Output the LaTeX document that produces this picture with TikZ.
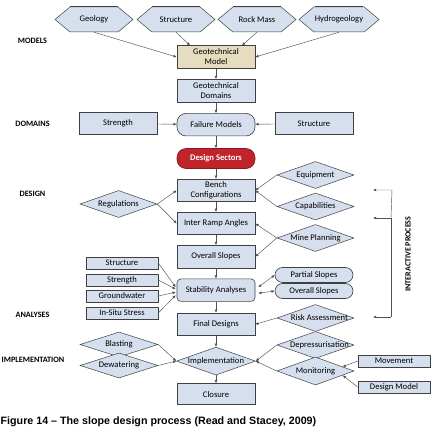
\documentclass[tikz,border=0pt]{standalone}
\usepackage{fontspec}
\setmainfont{Carlito}
\newfontfamily\captionface{Liberation Sans}
\usetikzlibrary{shapes.geometric, shapes.symbols, arrows.meta, positioning, calc}
\definecolor{slopeBlue}{HTML}{D5DFEE}
\definecolor{slopeTan}{HTML}{E6DCC0}
\definecolor{slopeRed}{HTML}{C0242A}
\definecolor{slopeLine}{HTML}{404040}
\definecolor{slopeArrow}{HTML}{505050}
\newcommand{\overtext}[1]{\makebox[0pt]{#1}}

\begin{document}
\begin{tikzpicture}[x=1pt, y=-1pt,
  node distance=10pt,
  every node/.style={font=\fontsize{8.6}{10}\selectfont, align=center, inner sep=1pt},
  box/.style={draw=slopeLine, fill=slopeBlue, line width=0.6pt, minimum width=78pt, minimum height=22.5pt},
  smallbox/.style={draw=slopeLine, fill=slopeBlue, line width=0.6pt, minimum width=72pt, minimum height=12pt},
  pill/.style={box, rounded corners=9pt},
  hexa/.style={draw=slopeLine, fill=slopeBlue, line width=0.5pt, signal, signal to=west and east,
    signal pointer angle=80, minimum width=78pt, minimum height=25pt},
  hextop/.style={slopeLine, line width=1.3pt},
  choice/.style={draw=slopeLine, fill=slopeBlue, line width=0.5pt, diamond, aspect=3, inner sep=0pt,
    minimum width=77pt, minimum height=27pt},
  stage/.style={font=\fontsize{8.2}{10}\selectfont\bfseries},
  link/.style={-{Latex[length=3.2pt,width=2.8pt]}, slopeArrow, line width=0.45pt},
  twoway/.style={{Latex[length=3.2pt,width=2.8pt]}-{Latex[length=3.2pt,width=2.8pt]}, slopeArrow, line width=0.45pt}
]
  \useasboundingbox (0,0) rectangle (436,427);

  % stage labels
  \node[stage] (lmodels) at (32.5,41) {MODELS};
  \node[stage] (ldomains) at (32.5,124) {DOMAINS};
  \node[stage] (ldesign) at (32.5,194) {DESIGN};
  \node[stage] (lanalyses) at (32.5,315) {ANALYSES};
  \node[stage] (limpl) at (33,360) {IMPLEMENTATION};

  % input models
  \node[hexa] (geology) at (94,19.5) {Geology};
  \node[hexa] (structure) at (176,19.5) {Structure};
  \node[hexa] (rockmass) at (257,19.5) {Rock Mass};
  \node[hexa] (hydro) at (339,19.5) {Hydrogeology};
  \draw[hextop] ($(geology.north)+(-24,-0.4)$) -- ($(geology.north)+(24,-0.4)$);
  \draw[hextop] ($(structure.north)+(-24,-0.4)$) -- ($(structure.north)+(24,-0.4)$);
  \draw[hextop] ($(rockmass.north)+(-24,-0.4)$) -- ($(rockmass.north)+(24,-0.4)$);
  \draw[hextop] ($(hydro.north)+(-24,-0.4)$) -- ($(hydro.north)+(24,-0.4)$);

  % main column
  \node[box, fill=slopeTan] (geomodel) at (216,57) {Geotechnical\\Model};
  \node[box, below=10.5pt of geomodel] (domains) {Geotechnical\\Domains};
  \node[pill, below=11pt of domains] (failure) {Failure Models};
  \node[pill, fill=slopeRed, draw=slopeRed!70!black, minimum height=20pt, text=white,
    font=\fontsize{8.6}{10}\selectfont\bfseries, below=12pt of failure] (sectors) {Design Sectors};
  \node[box, below=10pt of sectors] (bench) {Bench\\Configurations};
  \node[box, below=10pt of bench] (interramp) {Inter Ramp Angles};
  \node[box, below=10pt of interramp] (overall) {Overall Slopes};
  \node[box, rounded corners=4pt, below=10.5pt of overall] (stability) {Stability Analyses};
  \node[box, below=11pt of stability] (final) {Final Designs};
  \node[choice, minimum width=79pt, minimum height=28pt, below=11pt of final] (impl) {\overtext{Implementation}};
  \node[box, minimum height=21pt, below=8pt of impl] (closure) {Closure};

  % domains
  \node[box] (strength) at (118,123.5) {Strength};
  \node[box] (dstructure) at (314,123.5) {Structure};

  % design inputs
  \node[choice] (regs) at (118.5,204) {\overtext{Regulations}};
  \node[choice] (equip) at (315.5,175) {\overtext{Equipment}};
  \node[choice] (capab) at (315.5,206.5) {\overtext{Capabilities}};
  \node[choice] (mineplan) at (315.5,238) {\overtext{Mine Planning}};

  % analyses inputs
  \node[smallbox] (astruct) at (122,263) {Structure};
  \node[smallbox] (astrength) at (122,280) {Strength};
  \node[smallbox] (aground) at (122,296) {Groundwater};
  \node[smallbox] (astress) at (122,313) {In-Situ Stress};
  \node[box, rounded corners=7.5pt, minimum height=15pt] (partial) at (314,275) {Partial Slopes};
  \node[box, rounded corners=7.5pt, minimum height=15pt] (overall2) at (314,291) {Overall Slopes};
  \node[choice] (risk) at (315.5,318) {\overtext{\hspace{8pt}Risk Assessment}};

  % implementation inputs
  \node[choice, minimum width=78pt, minimum height=25pt] (blast) at (119,344.5) {\overtext{Blasting}};
  \node[choice, minimum width=78pt, minimum height=25pt] (dewater) at (119,365.5) {\overtext{Dewatering}};
  \node[choice] (depress) at (315.5,345) {\overtext{\hspace{8pt}Depressurisation}};
  \node[choice, minimum height=28pt] (monit) at (315.5,371) {\overtext{Monitoring}};
  \node[smallbox] (movement) at (394,361) {Movement};
  \node[smallbox] (designmodel) at (394,387) {Design Model};

  % feedback bracket
  \coordinate (fbtop) at (392,190);
  \coordinate (fbmid) at (391,218);
  \coordinate (fbbot) at (391,317);
  \coordinate (tiptop) at (373,190);
  \coordinate (tipmid) at (373,218);
  \coordinate (tipbot) at (373,317);
  \node[stage, rotate=90, font=\fontsize{8}{9}\selectfont\bfseries] (interactive) at (408,254) {INTERACTIVE PROCESS};

  % connectors
  \draw[link] (geology.south) -- (geomodel.west);
  \draw[link] (structure.south) -- ($(geomodel.north west)!0.17!(geomodel.north east)$);
  \draw[link] (rockmass.south) -- ($(geomodel.north west)!0.83!(geomodel.north east)$);
  \draw[link] (hydro.south) -- (geomodel.east);
  \draw[link] (geomodel) -- (domains);
  \draw[link] (domains) -- (failure);
  \draw[link] (strength) -- (failure);
  \draw[link] (dstructure) -- (failure);
  \draw[link] (failure) -- (sectors);
  \draw[link] (sectors) -- (bench);
  \draw[link] (bench) -- (interramp);
  \draw[link] (interramp) -- (overall);
  \draw[link] (overall) -- (stability);
  \draw[link] (stability) -- (final);
  \draw[link] (final) -- (impl);
  \draw[link] (impl) -- (closure);

  \draw[link] (regs.east) -- (bench.west);
  \draw[link] (regs.east) -- (interramp.west);
  \draw[link] (equip.west) -- (bench.east);
  \draw[link] (capab.west) -- (bench.east);
  \draw[link] (mineplan.west) -- (interramp.east);
  \draw[link] (mineplan.west) -- (overall.east);

  \draw[link] (astruct.east) -- ($(stability.west)+(-1,-3)$);
  \draw[link] (astrength.east) -- ($(stability.west)+(-1,-1)$);
  \draw[link] (aground.east) -- ($(stability.west)+(-1,2)$);
  \draw[link] (astress.east) -- ($(stability.west)+(-1,5)$);
  \draw[twoway] ($(stability.east)+(3,-3)$) -- (partial.west);
  \draw[twoway] ($(stability.east)+(3,3)$) -- (overall2.west);
  \draw[link] (risk.west) -- (final.east);

  \draw[link] (blast.east) -- (impl.west);
  \draw[link] (dewater.east) -- (impl.west);
  \draw[link] (depress.west) -- (impl.east);
  \draw[link] (monit.west) -- (impl.east);
  \draw[link] (movement.west) -- ($(monit.east)!0.3!(monit.north)$);
  \draw[link] (designmodel.west) -- ($(monit.east)!0.3!(monit.south)$);

  \draw[link] (fbmid) -- (fbtop) -- (tiptop);
  \draw[link] (fbbot) -- (fbmid) -- (tipmid);
  \draw[link] (fbbot) -- (tipbot);

  % caption
  \node[anchor=base west, inner sep=0pt, font=\captionface\fontsize{10.7}{12}\selectfont\bfseries] (caption)
    at (0.5,424) {Figure 14 \textendash\ The slope design process (Read and Stacey, 2009)};
\end{tikzpicture}
\end{document}
